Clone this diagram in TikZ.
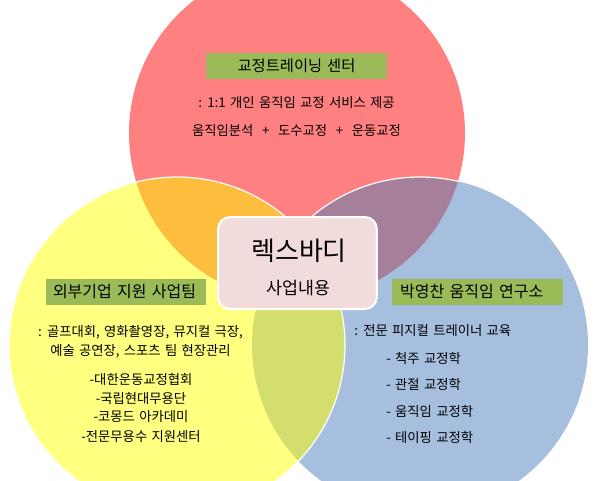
\documentclass[tikz,border=0pt]{standalone}
\usepackage{fontspec}
\setmainfont[WordSpace=1.45]{Noto Sans CJK KR}
\usetikzlibrary{positioning}
\definecolor{venred}{RGB}{255,128,128}
\definecolor{venyellow}{RGB}{255,255,128}
\definecolor{venblue}{RGB}{167,191,222}
\definecolor{venorange}{RGB}{253,189,61}
\definecolor{venpurple}{RGB}{166,128,155}
\definecolor{vengreen}{RGB}{212,222,110}
\definecolor{tagolive}{RGB}{155,187,89}
\definecolor{corepink}{RGB}{242,220,219}
\def\rad{126pt}

\begin{document}
\begin{tikzpicture}
  [x=0.75pt,y=-0.75pt,
   rim/.style={draw=white,line width=0.9pt},
   tagN/.style={fill=tagolive,minimum height=19.5pt,inner ysep=0pt,font=\fontsize{12}{13}\selectfont},
   bodyN/.style={inner sep=0pt,font=\fontsize{10}{11}\selectfont},
   coreN/.style={draw=white,line width=1.5pt,fill=corepink,rounded corners=9pt,
                 minimum width=119pt,minimum height=69pt}]

  \useasboundingbox (0,0) rectangle (594,480);
  \clip (0,0) rectangle (594,480);

  \coordinate (red) at (297,133);
  \coordinate (yel) at (177,345);
  \coordinate (blu) at (420,345);

  % the three circles and their overlaps
  \fill[venred] (red) circle [radius=\rad];
  \fill[venblue] (blu) circle [radius=\rad];
  \fill[venyellow] (yel) circle [radius=\rad];
  \begin{scope}
    \clip (red) circle [radius=\rad];
    \fill[venorange] (yel) circle [radius=\rad];
    \fill[venpurple] (blu) circle [radius=\rad];
  \end{scope}
  \begin{scope}
    \clip (blu) circle [radius=\rad];
    \fill[vengreen] (yel) circle [radius=\rad];
  \end{scope}
  \draw[rim] (yel) circle [radius=\rad];
  \begin{scope}
    \clip (red) circle [radius=\rad];
    \draw[rim] (blu) circle [radius=\rad];
  \end{scope}

  % top circle
  \node[tagN,minimum width=136pt,font=\fontsize{11.5}{13}\selectfont] (topT) at (296.5,66) {교정트레이닝 센터};
  \node[bodyN] (top1) at (296.5,103) {: 1:1 개인 움직임 교정 서비스 제공};
  \node[bodyN] (top2) at (296.5,130) {움직임분석 ~+~ 도수교정 ~+~ 운동교정};

  % left circle
  \node[tagN,text width=109.5pt,inner xsep=5.25pt,align=left] (leftT) at (126,292) {외부기업 지원 사업팀};
  \node[bodyN] (left1) at (140.5,332) {: 골프대회, 영화촬영장, 뮤지컬 극장,};
  \node[bodyN] (left2) at (140.5,351) {예술 공연장, 스포츠 팀 현장관리};
  \node[bodyN] (left3) at (141,379) {-대한운동교정협회};
  \node[bodyN] (left4) at (141,398) {-국립현대무용단};
  \node[bodyN] (left5) at (141,417) {-코몽드 아카데미};
  \node[bodyN] (left6) at (141,437) {-전문무용수 지원센터};

  % right circle
  \node[tagN,text width=116pt,inner xsep=6pt,align=left] (rightT) at (477.5,292) {박영찬 움직임 연구소};
  \node[bodyN,anchor=west] (right1) at (354,331) {: 전문 피지컬 트레이너 교육};
  \node[bodyN,anchor=west] (right2) at (386,358) {- 척주 교정학};
  \node[bodyN,anchor=west] (right3) at (386,384) {- 관절 교정학};
  \node[bodyN,anchor=west] (right4) at (386,411) {- 움직임 교정학};
  \node[bodyN,anchor=west] (right5) at (386,437) {- 테이핑 교정학};

  % centre box
  \node[coreN] (core) at (297.5,263) {};
  \node[font=\fontsize{19.5}{21}\selectfont] (brand) at (299,251) {렉스바디};
  \node[font=\fontsize{13}{15}\selectfont] (sub) at (298.5,288) {사업내용};
\end{tikzpicture}
\end{document}
